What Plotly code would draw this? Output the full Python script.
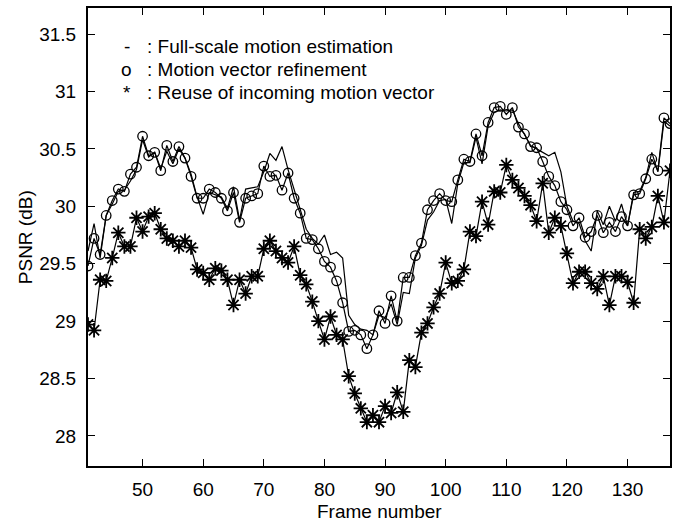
import plotly.graph_objects as go

frames = list(range(41, 138))

full_scale = [29.61, 29.85, 29.55, 29.92, 30.02, 30.13, 30.14, 30.22, 30.32, 30.58,
              30.43, 30.47, 30.33, 30.48, 30.37, 30.50, 30.42, 30.28, 30.08, 29.93,
              30.12, 30.10, 30.08, 29.98, 30.17, 29.88, 30.15, 30.16, 30.17, 30.30,
              30.46, 30.40, 30.52, 30.32, 30.15, 29.97, 29.80, 29.72, 29.67, 29.75,
              29.58, 29.60, 29.55, 29.05, 28.97, 28.93, 28.92, 28.88, 29.05, 29.03,
              29.15, 28.97, 29.25, 29.24, 29.55, 29.66, 29.88, 29.95, 30.05, 30.06,
              29.85, 30.20, 30.38, 30.38, 30.60, 30.37, 30.70, 30.82, 30.84, 30.83,
              30.84, 30.72, 30.62, 30.53, 30.50, 30.47, 30.44, 30.47, 30.30, 30.00,
              29.87, 29.85, 29.70, 29.61, 29.96, 29.84, 30.00, 29.87, 30.02, 29.83,
              30.12, 30.13, 30.25, 30.47, 30.30, 30.74, 30.70]

refinement = [29.48, 29.72, 29.58, 29.92, 30.05, 30.15, 30.13, 30.28, 30.34, 30.61,
              30.44, 30.47, 30.31, 30.53, 30.39, 30.52, 30.42, 30.26, 30.07, 30.07,
              30.15, 30.12, 30.07, 29.96, 30.12, 29.86, 30.07, 30.09, 30.11, 30.35,
              30.26, 30.27, 30.14, 30.29, 30.07, 29.94, 29.72, 29.71, 29.63, 29.52,
              29.47, 29.35, 29.16, 28.91, 28.92, 28.88, 28.76, 28.88, 29.09, 28.98,
              29.22, 29.00, 29.38, 29.38, 29.57, 29.68, 29.97, 30.05, 30.11, 30.05,
              30.04, 30.23, 30.41, 30.39, 30.63, 30.44, 30.73, 30.86, 30.87, 30.80,
              30.86, 30.69, 30.63, 30.52, 30.51, 30.39, 30.26, 30.18, 30.04, 29.97,
              29.83, 29.90, 29.73, 29.78, 29.92, 29.77, 29.86, 29.78, 29.91, 29.83,
              30.10, 30.11, 30.24, 30.41, 30.31, 30.77, 30.72]

reuse = [28.97, 28.92, 29.36, 29.35, 29.55, 29.77, 29.65, 29.65, 29.90, 29.78,
         29.91, 29.94, 29.80, 29.72, 29.70, 29.65, 29.70, 29.64, 29.45, 29.42,
         29.36, 29.46, 29.44, 29.36, 29.14, 29.36, 29.24, 29.39, 29.39, 29.63,
         29.70, 29.61, 29.55, 29.51, 29.65, 29.40, 29.32, 29.17, 29.00, 28.84,
         29.04, 28.88, 28.84, 28.52, 28.37, 28.24, 28.12, 28.18, 28.12, 28.26,
         28.20, 28.38, 28.21, 28.66, 28.60, 28.90, 28.98, 29.12, 29.24, 29.51,
         29.33, 29.35, 29.45, 29.78, 29.74, 30.04, 29.84, 30.13, 30.12, 30.36,
         30.23, 30.16, 30.09, 30.01, 29.87, 30.20, 29.77, 29.90, 29.83, 29.59,
         29.33, 29.43, 29.43, 29.33, 29.28, 29.39, 29.14, 29.39, 29.39, 29.34,
         29.16, 29.80, 29.72, 29.82, 30.09, 29.86, 30.31]

x_ticks = [50, 60, 70, 80, 90, 100, 110, 120, 130]
y_ticks = [28, 28.5, 29, 29.5, 30, 30.5, 31, 31.5]
y_tick_labels = ["28", "28.5", "29", "29.5", "30", "30.5", "31", "31.5"]

legend_symbols = ["-", "o", "*"]
legend_texts = [": Full-scale motion estimation",
                ": Motion vector refinement",
                ": Reuse of incoming motion vector"]

FONT = "Liberation Sans, Arial, Helvetica, sans-serif"

fig = go.Figure()
fig.add_trace(go.Scatter(x=frames, y=full_scale, mode="lines",
                         line=dict(color="black", width=1.2), showlegend=False))
fig.add_trace(go.Scatter(x=frames, y=refinement, mode="lines+markers",
                         line=dict(color="black", width=1.2),
                         marker=dict(symbol="circle-open", size=9.5, color="black",
                                     line=dict(width=1.3, color="black")),
                         showlegend=False))
fig.add_trace(go.Scatter(x=frames, y=reuse, mode="lines+markers",
                         line=dict(color="black", width=1.2),
                         marker=dict(symbol="asterisk-open", size=12, color="black",
                                     line=dict(width=1.8, color="black")),
                         showlegend=False))

L, R, T, B = 88, 6, 7, 57
W, H = 678, 523
pw = W - L - R
ph = H - T - B

def px_x(x):
    return (x - L) / pw

def px_y(y):
    return (H - B - y) / ph

legend_y = [46, 69, 92]
for sym, txt, yy in zip(legend_symbols, legend_texts, legend_y):
    fig.add_annotation(x=px_x(127), y=px_y(yy), xref="paper", yref="paper",
                       text=sym, showarrow=False, xanchor="center", yanchor="middle",
                       font=dict(family=FONT, size=19, color="black"))
    fig.add_annotation(x=px_x(145), y=px_y(yy), xref="paper", yref="paper",
                       text=txt, showarrow=False, xanchor="left", yanchor="middle",
                       font=dict(family=FONT, size=19, color="black"))

fig.add_annotation(x=0.5, y=px_y(512), xref="paper", yref="paper",
                   text="Frame number", showarrow=False, xanchor="center", yanchor="middle",
                   font=dict(family=FONT, size=19, color="black"))
fig.add_annotation(x=px_x(25), y=0.5, xref="paper", yref="paper",
                   text="PSNR (dB)", showarrow=False, xanchor="center", yanchor="middle",
                   textangle=-90, font=dict(family=FONT, size=19, color="black"))

axis_common = dict(showline=True, linecolor="black", linewidth=2, mirror="ticks",
                   ticks="inside", ticklen=7, tickwidth=1.2, tickcolor="black",
                   showgrid=False, zeroline=False,
                   tickfont=dict(family=FONT, size=19, color="black"))

fig.update_xaxes(range=[41, 137], tickvals=x_ticks, ticklabelstandoff=5, **axis_common)
fig.update_yaxes(range=[27.738, 31.727], tickvals=y_ticks, ticktext=y_tick_labels,
                 ticklabelstandoff=6, **axis_common)

fig.update_layout(width=W, height=H, margin=dict(l=L, r=R, t=T, b=B, pad=0),
                  plot_bgcolor="white", paper_bgcolor="white",
                  font=dict(family=FONT, size=19, color="black"))

fig.write_html("out.html")
